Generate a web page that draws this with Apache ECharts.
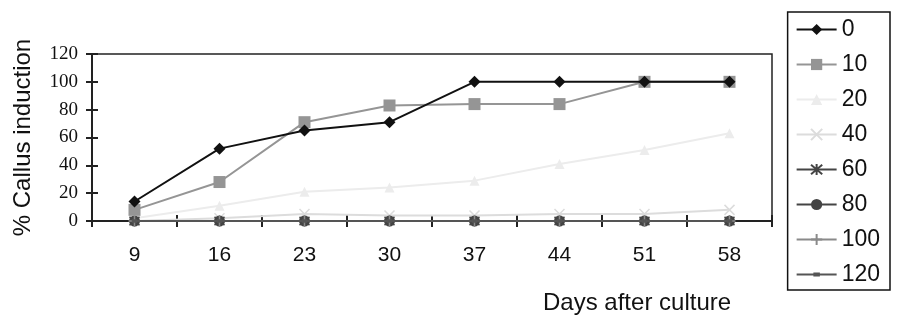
<!DOCTYPE html>
<html><head><meta charset="utf-8">
<script src="https://cdn.jsdelivr.net/npm/echarts@6/dist/echarts.min.js"></script>
<style>html,body{margin:0;padding:0;background:#fff}#c{width:900px;height:323px}</style>
</head><body><div id="c"></div>
<script>
var days = ['9','16','23','30','37','44','51','58'];
var yTicks = [0,20,40,60,80,100,120];
var s0   = [14,52,65,71,100,100,100,100];
var s10  = [8,28,71,83,84,84,100,100];
var s20  = [2,11,21,24,29,41,51,63];
var s40  = [0,2,5,4,4,5,5,8];
var s60  = [0,0,0,0,0,0,0,0];
var s80  = [0,0,0,0,0,0,0,0];
var s100 = [0,0,0,0,0,0,0,0];
var s120 = [0,0,0,0,0,0,0,0];
var names = ['0','10','20','40','60','80','100','120'];

var xPath = 'path://M0,0 L10,10 M10,0 L0,10';
var astPath = 'path://M0,0 L10,10 M10,0 L0,10 M5,-1 L5,11';
var plusPath = 'path://M5,0 L5,10 M0,5 L10,5';
var dashPath = 'path://M0,0 M10,10 M3,4 L7,4 L7,6 L3,6 Z';

function ser(name, data, color, symbol, size, z) {
  return {
    name: name, type: 'line', data: data, z: z,
    symbol: symbol, symbolSize: size,
    lineStyle: {color: color, width: 2},
    itemStyle: {color: color, borderColor: color, borderWidth: (symbol.indexOf('path')===0?1.5:0)},
    emphasis: {disabled: true}
  };
}

var chart = echarts.init(document.getElementById('c'));
chart.setOption({
  animation: false,
  grid: {left: 92, right: 128, top: 54, bottom: 102, show: true, borderColor: '#222', borderWidth: 1.5, backgroundColor: 'transparent'},
  legend: {
    orient: 'vertical', right: 10, top: 12,
    data: names,
    itemWidth: 40, itemHeight: 14, itemGap: 12,
    borderColor: '#111', borderWidth: 1.5, padding: [6, 10, 4, 8],
    textStyle: {fontFamily: 'Liberation Sans', fontSize: 23, lineHeight: 23, color: '#111'},
    selectedMode: false
  },
  xAxis: [{
    type: 'category', data: days, boundaryGap: true,
    axisLine: {lineStyle: {color: '#222', width: 2}},
    axisTick: {show: true, length: 6, lineStyle: {color: '#222', width: 2}},
    axisLabel: {fontFamily: 'Liberation Sans', fontSize: 21, color: '#111', margin: 24}
  }, {
    type: 'category', data: days, boundaryGap: true, position: 'bottom',
    axisLine: {show: false},
    axisTick: {show: true, inside: true, length: 6, lineStyle: {color: '#222', width: 2}},
    axisLabel: {show: false}
  }],
  yAxis: [{
    type: 'value', min: 0, max: 120, interval: 20,
    name: '% Callus induction', nameLocation: 'middle', nameGap: 57,
    nameTextStyle: {fontFamily: 'Liberation Sans', fontSize: 24, color: '#111'},
    axisLine: {show: true, lineStyle: {color: '#222', width: 2}},
    axisTick: {show: true, length: 6, lineStyle: {color: '#222', width: 2}},
    axisLabel: {fontFamily: 'Liberation Serif', fontSize: 19, color: '#111', margin: 14,
      formatter: function(v){ return yTicks.indexOf(v) >= 0 ? String(v) : ''; }},
    splitLine: {show: false}
  }, {
    type: 'value', min: 0, max: 120, interval: 20, position: 'left',
    axisLine: {show: false},
    axisTick: {show: true, inside: true, length: 6, lineStyle: {color: '#222', width: 2}},
    axisLabel: {show: false}, splitLine: {show: false}
  }],
  graphic: [{
    type: 'text', left: 543, top: 291,
    style: {text: 'Days after culture', font: '24px "Liberation Sans"', fill: '#111'}
  }],
  series: [
    ser('0', s0, '#111111', 'diamond', 12, 10),
    ser('10', s10, '#959595', 'rect', 12, 9),
    ser('20', s20, '#ececec', 'triangle', 10, 3),
    ser('40', s40, '#dcdcdc', xPath, 10, 4),
    ser('60', s60, '#444444', astPath, 10, 5),
    ser('80', s80, '#444444', 'circle', 11, 6),
    ser('100', s100, '#8a8a8a', plusPath, 12, 7),
    ser('120', s120, '#555555', dashPath, 10, 8)
  ]
});
</script></body></html>
